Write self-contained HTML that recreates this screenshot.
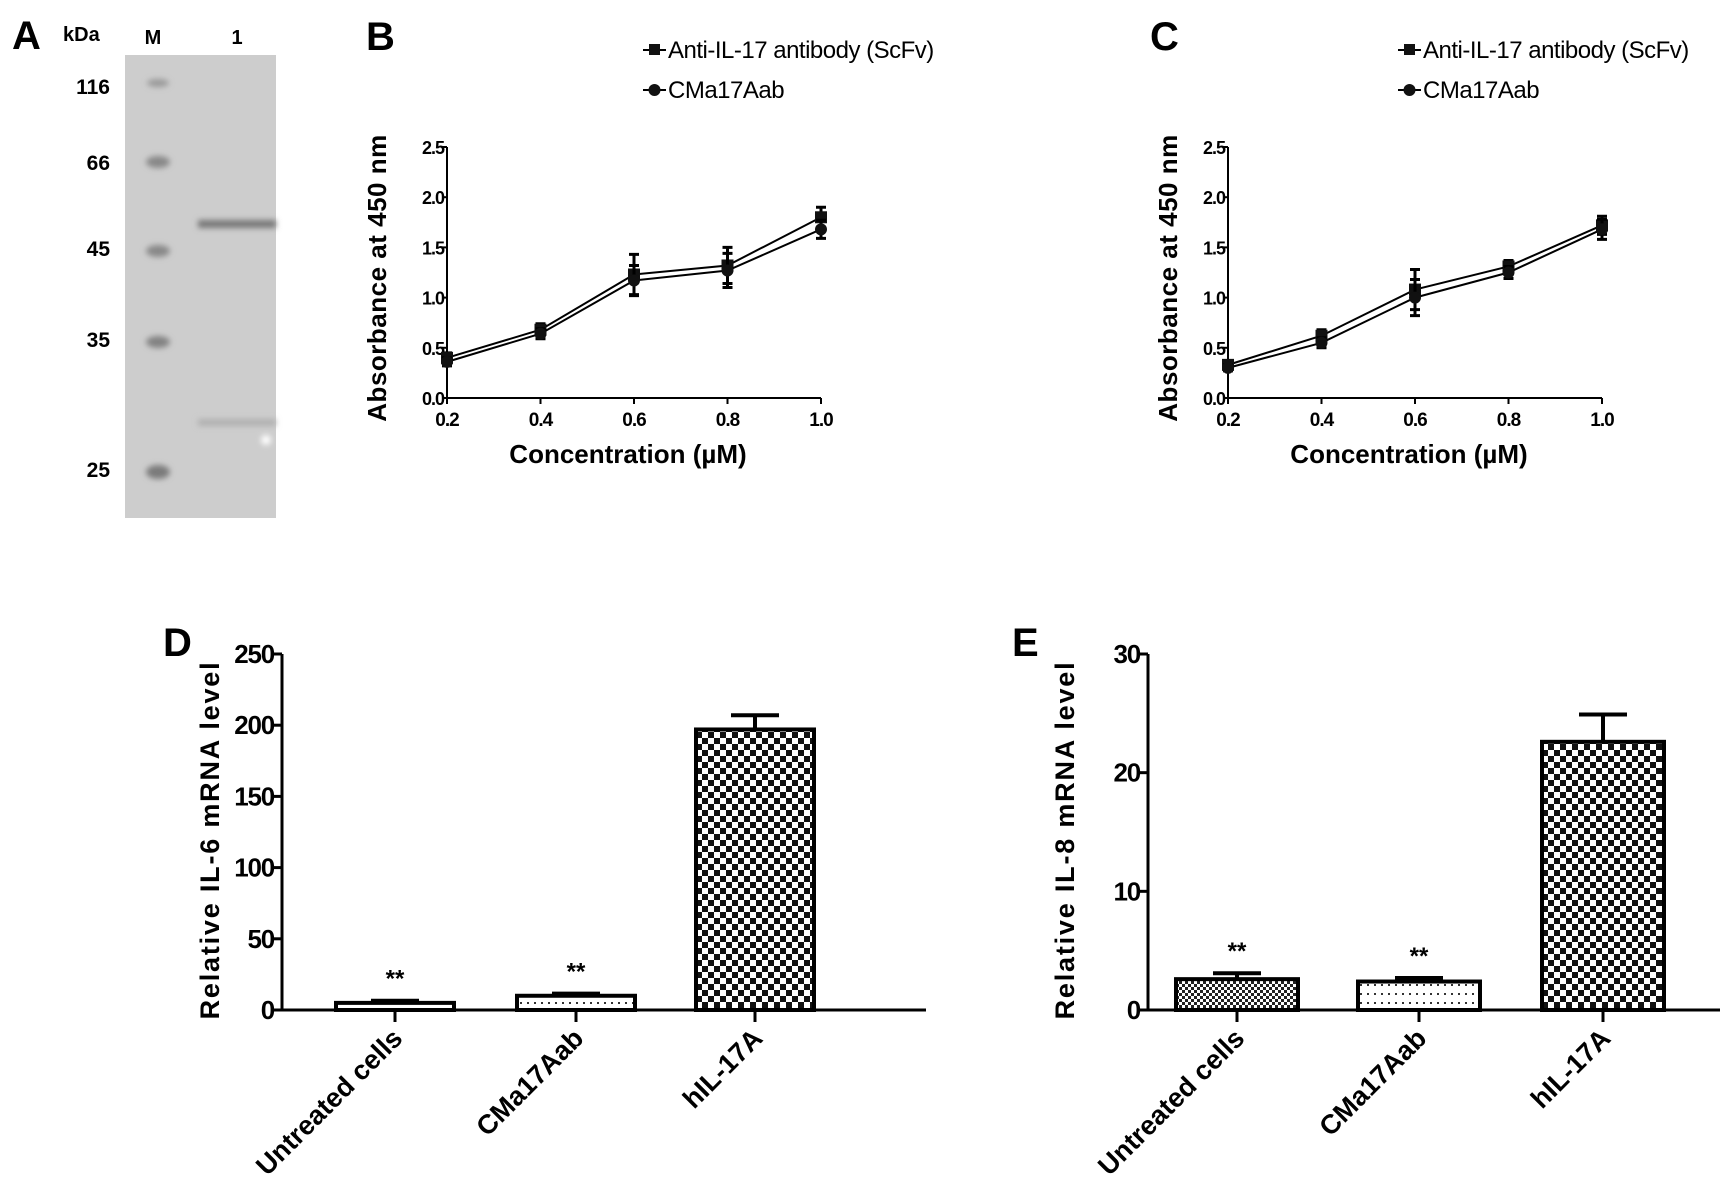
<!DOCTYPE html>
<html><head><meta charset="utf-8"><style>
html,body{margin:0;padding:0;background:#fff;}
svg{display:block;font-family:"Liberation Sans",Arial,sans-serif;}
</style></head><body>
<svg id="fig" width="1729" height="1195" viewBox="0 0 1729 1195" xmlns="http://www.w3.org/2000/svg">
<defs>
<pattern id="checker" width="12" height="12" patternUnits="userSpaceOnUse"><rect width="12" height="12" fill="#fff"/><rect width="6" height="6" fill="#111"/><rect x="6" y="6" width="6" height="6" fill="#111"/></pattern>
<pattern id="finecheck" width="6" height="6" patternUnits="userSpaceOnUse"><rect width="6" height="6" fill="#fff"/><rect width="3" height="3" fill="#222"/><rect x="3" y="3" width="3" height="3" fill="#222"/></pattern>
<pattern id="dots" width="7" height="9" patternUnits="userSpaceOnUse"><rect width="7" height="9" fill="#fff"/><rect x="2" y="3" width="2" height="2" fill="#333"/></pattern>
<filter id="blur"><feGaussianBlur stdDeviation="3"/></filter>
</defs>
<g id="panelA">
<text x="12" y="49" font-size="40" font-weight="bold">A</text>
<text x="63" y="41" font-size="20" font-weight="bold">kDa</text>
<text x="153" y="44" font-size="20" font-weight="bold" text-anchor="middle">M</text>
<text x="237" y="44" font-size="20" font-weight="bold" text-anchor="middle">1</text>
<rect x="125" y="55" width="151" height="463" fill="#cdcdcd"/>
<g filter="url(#blur)">
<ellipse cx="158" cy="83" rx="11" ry="4" fill="#999"/>
<ellipse cx="158" cy="162" rx="12" ry="6" fill="#888"/>
<ellipse cx="158" cy="251" rx="12" ry="6" fill="#888"/>
<ellipse cx="158" cy="342" rx="12" ry="6" fill="#828282"/>
<ellipse cx="158" cy="472" rx="12" ry="7" fill="#7a7a7a"/>
<rect x="198" y="220" width="78" height="8" fill="#777"/>
<rect x="198" y="419" width="78" height="7" fill="#b0b0b0"/>
<circle cx="266" cy="440" r="5" fill="#fff"/>
</g>
<g font-size="21" font-weight="bold" text-anchor="end">
<text x="110" y="94">116</text><text x="110" y="170">66</text><text x="110" y="256">45</text><text x="110" y="347">35</text><text x="110" y="477">25</text>
</g>
</g>
<g id="panelB"></g>
<g id="panelC"></g>
<g id="panelD"></g>
<g id="panelE"></g>
</svg>
<script>
const concX = [0.2, 0.4, 0.6, 0.8, 1.0];
const xTickLabels = ["0.2", "0.4", "0.6", "0.8", "1.0"];
const yTicksAbs = [0, 0.5, 1.0, 1.5, 2.0, 2.5];
const yTickLabelsAbs = ["0.0", "0.5", "1.0", "1.5", "2.0", "2.5"];
const bScfv = [0.40, 0.68, 1.23, 1.32, 1.80];
const bScfvErr = [0.05, 0.06, 0.20, 0.18, 0.10];
const bCma = [0.36, 0.64, 1.17, 1.27, 1.68];
const bCmaErr = [0.04, 0.05, 0.15, 0.17, 0.09];
const cScfv = [0.33, 0.62, 1.08, 1.31, 1.72];
const cScfvErr = [0.04, 0.06, 0.20, 0.06, 0.09];
const cCma = [0.30, 0.55, 1.00, 1.25, 1.68];
const cCmaErr = [0.03, 0.05, 0.18, 0.06, 0.10];
const barCats = ["Untreated cells", "CMa17Aab", "hIL-17A"];
const dVals = [5, 10, 197];
const dErr = [1.5, 1.5, 10];
const dTicks = [0, 50, 100, 150, 200, 250];
const eVals = [2.6, 2.4, 22.6];
const eErr = [0.5, 0.3, 2.3];
const eTicks = [0, 10, 20, 30];
const sigMarks = ["**", "**", ""];

const NS = "http://www.w3.org/2000/svg";
function mk(parent, tag, attrs, text) {
  const el = document.createElementNS(NS, tag);
  for (const k in attrs) el.setAttribute(k, attrs[k]);
  if (text !== undefined) el.textContent = text;
  parent.appendChild(el);
  return el;
}

function lineChart(gid, L, sA, sAe, sB, sBe) {
  const g = document.getElementById(gid);
  const x0 = L.ax, x1 = L.ax + 374, yTop = 147, yBot = 398;
  const xs = v => x0 + (v - 0.2) / 0.8 * (x1 - x0);
  const ys = v => yBot - v / 2.5 * (yBot - yTop);
  let t = mk(g, "text", {x: L.lx, y: 50, "font-size": 40, "font-weight": "bold"}, L.letter);
  
  
  let ax = mk(g, "path", {d: `M${x0} ${yTop}V${yBot}H${x1}`, stroke: "#000", "stroke-width": 2, fill: "none"});
  
  
  yTicksAbs.forEach((v, i) => {
    mk(g, "line", {x1: x0 - 5, x2: x0, y1: ys(v), y2: ys(v), stroke: "#000", "stroke-width": 2});
    const tl = mk(g, "text", {x: x0 - 3, y: ys(v) + 7, "font-size": 18, "font-weight": "bold", "text-anchor": "end", "letter-spacing": "-1"}, yTickLabelsAbs[i]);
    
    
  });
  concX.forEach((v, i) => {
    mk(g, "line", {x1: xs(v), x2: xs(v), y1: yBot, y2: yBot + 6, stroke: "#000", "stroke-width": 2});
    const tl = mk(g, "text", {x: xs(v), y: yBot + 28, "font-size": 19, "font-weight": "bold", "text-anchor": "middle", "letter-spacing": "-1"}, xTickLabels[i]);
    
    
  });
  let yt = mk(g, "text", {x: 0, y: 0, "font-size": 26, "font-weight": "bold", "text-anchor": "middle", "letter-spacing": "0.5", transform: `translate(${L.ytx},278) rotate(-90)`}, "Absorbance at 450 nm");
  
  
  let xt = mk(g, "text", {x: (x0 + x1) / 2 - 6, y: 463, "font-size": 26, "font-weight": "bold", "text-anchor": "middle"}, "Concentration (\u00b5M)");
  
  
  [[sA, sAe, "sq", "series-scfv"], [sB, sBe, "ci", "series-cma17aab"]].forEach(([vals, errs, shape, nm]) => {
    const sg = mk(g, "g", {});
    
    
    mk(sg, "polyline", {points: vals.map((v, i) => `${xs(concX[i])},${ys(v)}`).join(" "), fill: "none", stroke: "#000", "stroke-width": 2});
    vals.forEach((v, i) => {
      const cx = xs(concX[i]), cy = ys(v), e = errs[i];
      mk(sg, "path", {d: `M${cx} ${ys(v + e)}V${ys(v - e)}M${cx - 5} ${ys(v + e)}H${cx + 5}M${cx - 5} ${ys(v - e)}H${cx + 5}`, stroke: "#000", "stroke-width": 3});
      let m;
      if (shape === "sq") m = mk(sg, "rect", {x: cx - 6, y: cy - 6, width: 12, height: 12, fill: "#111"});
      else m = mk(sg, "circle", {cx: cx, cy: cy, r: 6, fill: "#111"});
      
      
    });
  });
  [["Anti-IL-17 antibody (ScFv)", 50, "sq"], ["CMa17Aab", 90, "ci"]].forEach(([lab, y, shape]) => {
    const lg = mk(g, "g", {});
    
    
    mk(lg, "line", {x1: L.legx, x2: L.legx + 23, y1: y, y2: y, stroke: "#000", "stroke-width": 2});
    if (shape === "sq") mk(lg, "rect", {x: L.legx + 6, y: y - 6, width: 11, height: 11, fill: "#111"});
    else mk(lg, "circle", {cx: L.legx + 11.5, cy: y, r: 6, fill: "#111"});
    mk(lg, "text", {x: L.legx + 25, y: y + 8, "font-size": 24, "letter-spacing": "-0.5"}, lab);
  });
}
lineChart("panelB", {ax: 447, lx: 366, ytx: 386, legx: 643, letter: "B"}, bScfv, bScfvErr, bCma, bCmaErr);
lineChart("panelC", {ax: 1228, lx: 1150, ytx: 1177, legx: 1398, letter: "C"}, cScfv, cScfvErr, cCma, cCmaErr);

function barChart(gid, L, vals, errs, ticks, fills) {
  const g = document.getElementById(gid);
  const yTop = 654, yBot = 1010, x0 = L.ax;
  const ymax = ticks[ticks.length - 1];
  const ys = v => yBot - v / ymax * (yBot - yTop);
  const centers = L.centers;
  let t = mk(g, "text", {x: L.lx, y: 656, "font-size": 40, "font-weight": "bold"}, L.letter);
  
  
  let ax = mk(g, "path", {d: `M${x0} ${yTop}V${yBot}H${L.axEnd}`, stroke: "#000", "stroke-width": 3, fill: "none"});
  
  
  ticks.forEach(v => {
    mk(g, "line", {x1: x0 - 8, x2: x0, y1: ys(v), y2: ys(v), stroke: "#000", "stroke-width": 3});
    const tl = mk(g, "text", {x: x0 - 8, y: ys(v) + 9, "font-size": 26, "font-weight": "bold", "text-anchor": "end", "letter-spacing": "-1.2"}, String(v));
    
    
  });
  let yt = mk(g, "text", {x: 0, y: 0, "font-size": 27, "font-weight": "bold", "text-anchor": "middle", "letter-spacing": "1.8", transform: `translate(${L.ytx},${(yTop + yBot) / 2 + 8}) rotate(-90)`}, L.ytitle);
  
  
  vals.forEach((v, i) => {
    const c = centers[i], hw = L.bw / 2;
    const b = mk(g, "rect", {x: c - hw, y: ys(v), width: L.bw, height: yBot - ys(v), fill: fills[i], stroke: "#000", "stroke-width": 4});
    
    
    const e = mk(g, "path", {d: `M${c} ${ys(v)}V${ys(v + errs[i])}M${c - 24} ${ys(v + errs[i])}H${c + 24}`, stroke: "#000", "stroke-width": 4});
    
    
    mk(g, "line", {x1: c, x2: c, y1: yBot, y2: yBot + 12, stroke: "#000", "stroke-width": 3});
    if (sigMarks[i]) {
      const s = mk(g, "text", {x: c, y: ys(v + errs[i]) - 14, "font-size": 24, "font-weight": "bold", "text-anchor": "middle"}, sigMarks[i]);
      
      
    }
    const cl = mk(g, "text", {x: 0, y: 0, "font-size": 27, "font-weight": "bold", "text-anchor": "end", transform: `translate(${c + 9},${yBot + 30}) rotate(-45)`}, barCats[i]);
    
    
  });
}
barChart("panelD", {ax: 282, axEnd: 926, lx: 163, letter: "D", ytx: 219, ytitle: "Relative IL-6 mRNA level", centers: [395, 576, 755], bw: 118}, dVals, dErr, dTicks, ["url(#dots)", "url(#dots)", "url(#checker)"]);
barChart("panelE", {ax: 1148, axEnd: 1720, lx: 1012, letter: "E", ytx: 1074, ytitle: "Relative IL-8 mRNA level", centers: [1237, 1419, 1603], bw: 122}, eVals, eErr, eTicks, ["url(#finecheck)", "url(#dots)", "url(#checker)"]);
</script>
</body></html>
